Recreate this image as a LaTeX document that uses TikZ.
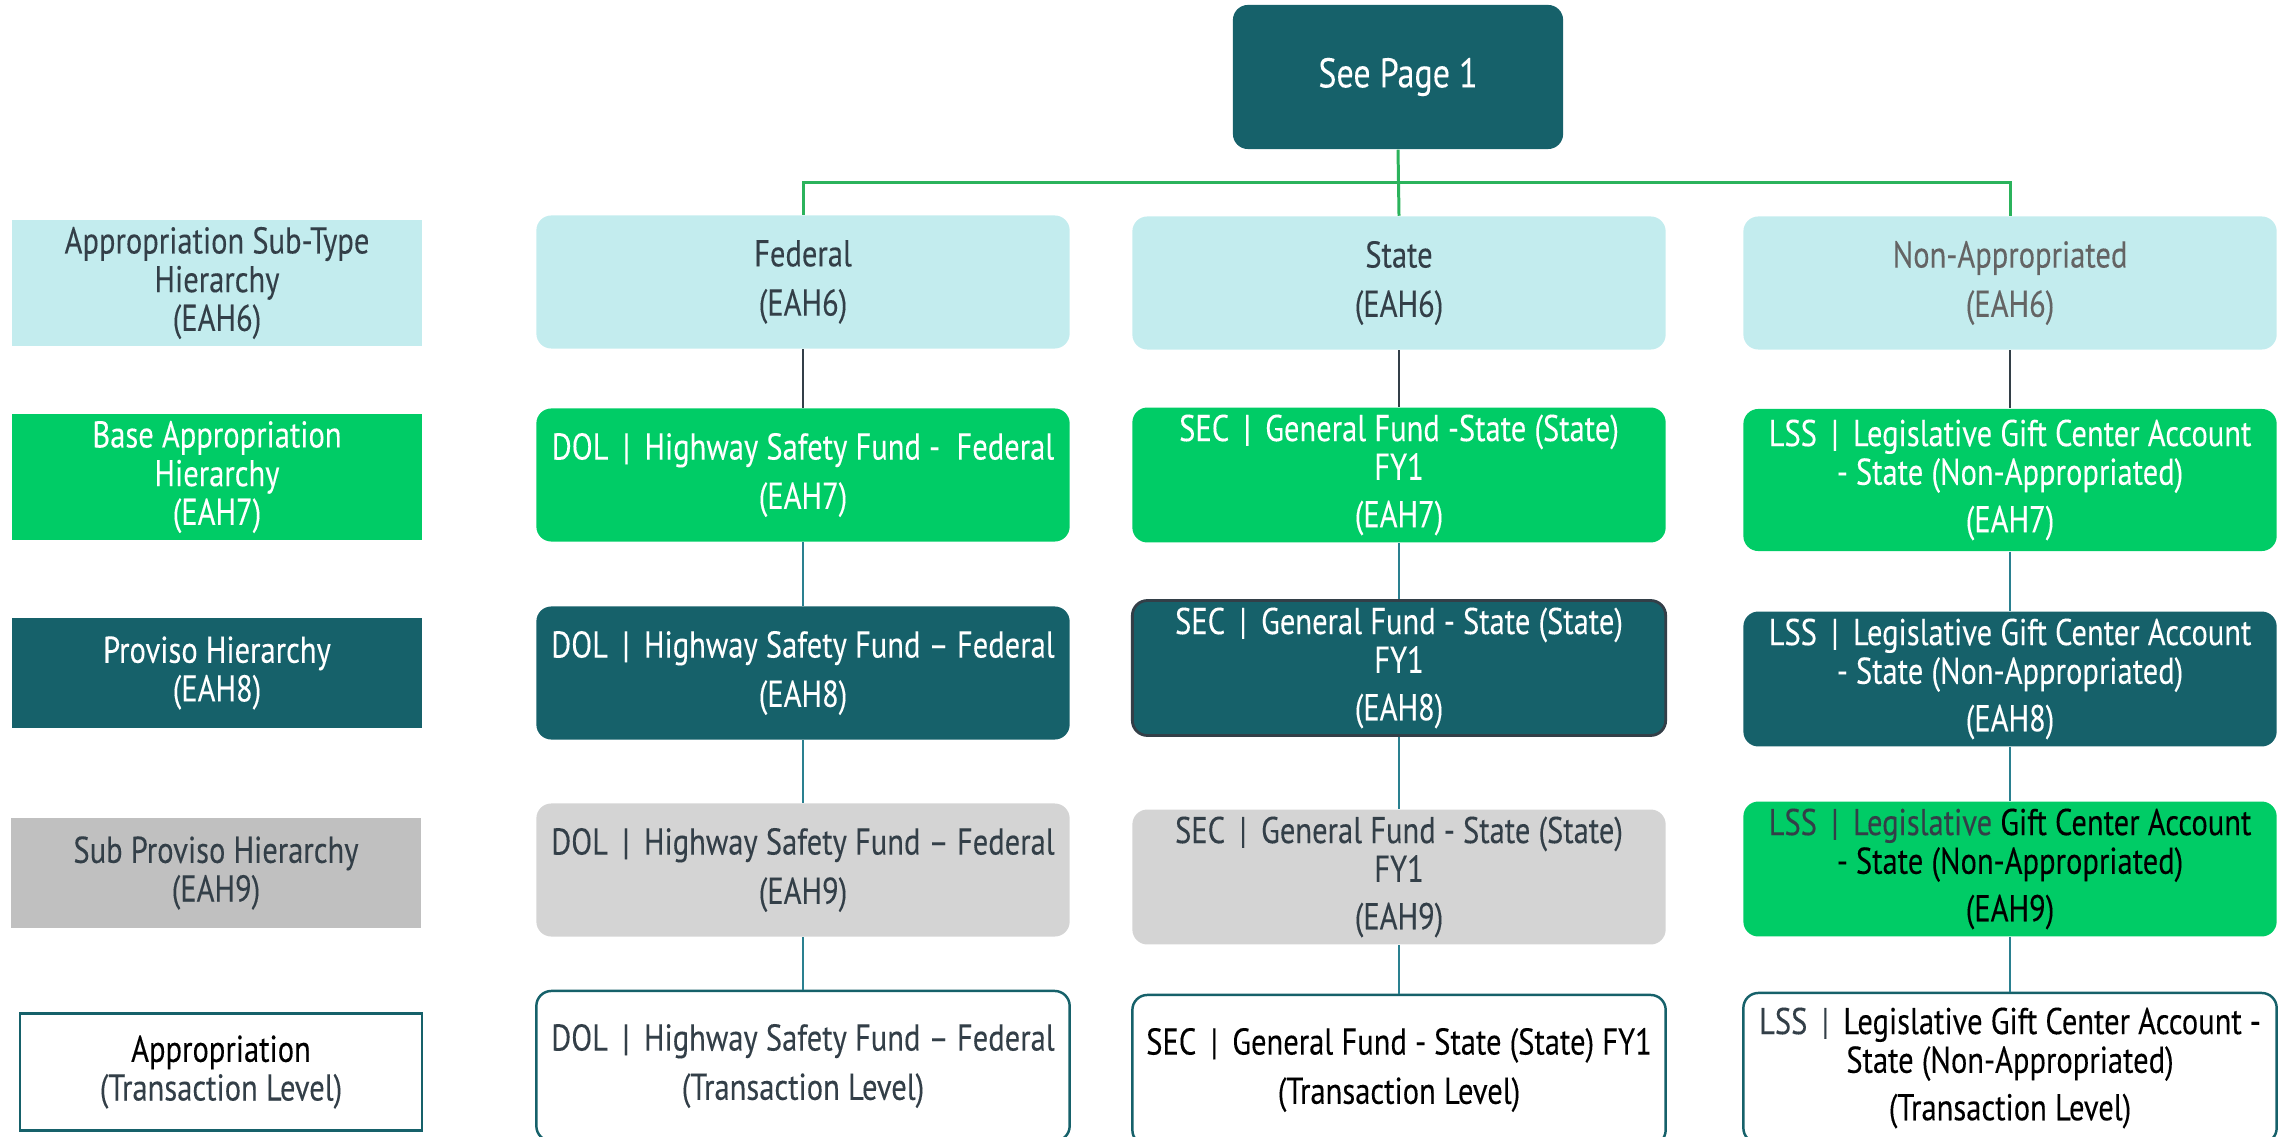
\documentclass[tikz,border=0pt]{standalone}
\usepackage{fontspec}
\setmainfont{PT Sans}[FakeStretch=0.82, FakeBold=0.15]
\usetikzlibrary{positioning}
\definecolor{darkteal}{HTML}{16616A}
\definecolor{paleaqua}{HTML}{C3ECEE}
\definecolor{brightgreen}{HTML}{00CC66}
\definecolor{greylabel}{HTML}{C0C0C0}
\definecolor{greybox}{HTML}{D4D4D4}
\definecolor{slatetext}{HTML}{333F48}
\definecolor{greytext}{HTML}{646464}
\definecolor{busgreen}{HTML}{2BB35C}
\definecolor{linkteal}{HTML}{2A8090}
\newcommand{\boxfont}{\fontsize{10.6}{11}\selectfont}
\tikzstyle{levelbox} = [
    rectangle,
    inner sep=2pt,
    minimum width=4.1cm,
    minimum height=1.1cm,
    align=center,
    font=\boxfont
    ]
\tikzstyle{colbox} = [
    rectangle,
    rounded corners=0.15cm,
    inner sep=2pt,
    minimum width=5.33cm,
    minimum height=1.33cm,
    align=center,
    font=\boxfont
    ]
\tikzstyle{subtype} = [colbox, fill=paleaqua, text=slatetext]
\tikzstyle{baseapp} = [colbox, fill=brightgreen, text=white]
\tikzstyle{proviso} = [colbox, fill=darkteal, text=white]
\tikzstyle{subproviso} = [colbox, fill=greybox, text=slatetext]
\tikzstyle{translevel} = [colbox, draw=darkteal, line width=0.7pt, fill=white, minimum height=1.5cm]
\tikzstyle{busline} = [draw=busgreen, line width=0.85pt]
\tikzstyle{greylink} = [draw=slatetext, line width=0.75pt]
\tikzstyle{teallink} = [draw=linkteal, line width=0.75pt]

\begin{document}
\begin{tikzpicture}[x=0.01cm, y=-0.01cm]
\useasboundingbox (0,0) rectangle (2292,1137);
\clip (0,0) rectangle (2292,1137);

% level labels on the left
\node[levelbox, fill=paleaqua, text=slatetext] (lvlsix) at (217,283)
    {Appropriation Sub-Type\\Hierarchy\\(EAH6)};
\node[levelbox, fill=brightgreen, text=white] (lvlseven) at (217,477)
    {Base Appropriation\\Hierarchy\\(EAH7)};
\node[levelbox, fill=darkteal, text=white] (lvleight) at (217,673)
    {Proviso Hierarchy\\(EAH8)};
\node[levelbox, fill=greylabel, text=slatetext] (lvlnine) at (216,873)
    {Sub Proviso Hierarchy\\(EAH9)};
\node[levelbox, draw=darkteal, line width=0.7pt, minimum width=4.02cm, minimum height=1.17cm] (lvltrans) at (221,1072)
    {Appropriation\\\textcolor{slatetext}{(Transaction Level)}};

% top node
\node[colbox, fill=darkteal, text=white, minimum width=3.3cm, minimum height=1.44cm,
    font=\fontsize{11.8}{12}\selectfont] (top) at (1398,77) {See Page 1};

% Federal column
\node[subtype] (fedA) at (803,282) {Federal\\[3pt](EAH6)};
\node[baseapp] (fedB) at (803,475) {DOL \,|\, Highway Safety Fund - \ Federal\\[3pt](EAH7)};
\node[proviso] (fedC) at (803,673) {DOL \,|\, Highway Safety Fund -- Federal\\[3pt](EAH8)};
\node[subproviso] (fedD) at (803,870) {DOL \,|\, Highway Safety Fund -- Federal\\[3pt](EAH9)};
\node[translevel, text=slatetext] (fedE) at (803,1066) {DOL \,|\, Highway Safety Fund -- Federal\\[3pt](Transaction Level)};

% State column
\node[subtype] (stateA) at (1399,283) {State\\[3pt](EAH6)};
\node[baseapp] (stateB) at (1399,475) {SEC \,|\, General Fund -State (State)\\FY1\\[2.5pt](EAH7)};
\node[proviso, draw=slatetext, line width=0.8pt] (stateC) at (1399,668) {SEC \,|\, General Fund - State (State)\\FY1\\[2.5pt](EAH8)};
\node[subproviso, minimum height=1.28cm] (stateD) at (1399,877) {SEC \,|\, General Fund - State (State)\\FY1\\[2.5pt](EAH9)};
\node[translevel, text=black] (stateE) at (1399,1070) {SEC \,|\, General Fund - State (State) FY1\\[3pt](Transaction Level)};

% Non-Appropriated column
\node[subtype, text=greytext] (nonA) at (2010,283) {Non-Appropriated\\[3pt](EAH6)};
\node[baseapp, minimum height=1.42cm] (nonB) at (2010,480) {LSS \,|\, Legislative Gift Center Account\\- State (Non-Appropriated)\\[2.5pt](EAH7)};
\node[proviso, minimum height=1.28cm] (nonC) at (2010,679) {LSS \,|\, Legislative Gift Center Account\\- State (Non-Appropriated)\\[2.5pt](EAH8)};
\node[baseapp, text=black, minimum height=1.28cm] (nonD) at (2010,869)
    {\textcolor{slatetext}{LSS \,|\, Legislative} Gift Center Account\\- State (Non-Appropriated)\\[2.5pt](EAH9)};
\node[translevel, text=black] (nonE) at (2010,1068)
    {\textcolor{slatetext}{LSS \,|\,} Legislative Gift Center Account -\\State (Non-Appropriated)\\[2.5pt](Transaction Level)};

% connectors
\coordinate (bus) at (1398,183);
\draw[busline] (top.south) -- (stateA.north);
\draw[busline] (fedA.north) |- (bus) -| (nonA.north);
\foreach \col in {fed,state,non}{
    \draw[greylink] (\col A.south) -- (\col B.north);
    \draw[teallink] (\col B.south) -- (\col C.north);
    \draw[teallink] (\col C.south) -- (\col D.north);
    \draw[teallink] (\col D.south) -- (\col E.north);
}
\end{tikzpicture}
\end{document}
